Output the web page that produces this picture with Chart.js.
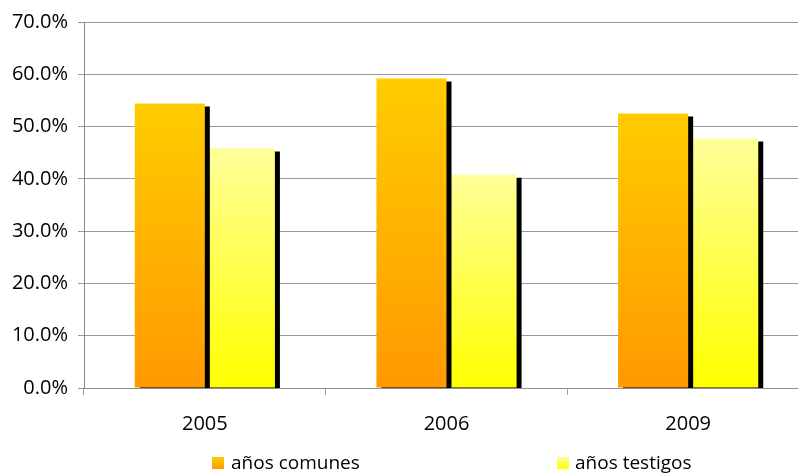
<!DOCTYPE html>
<html>
<head>
<meta charset="utf-8">
<script src="https://cdn.jsdelivr.net/npm/chart.js@4"></script>
<style>
  html, body { margin: 0; padding: 0; background: #fff; overflow: hidden; width: 798px; height: 473px; }
  #wrap { position: absolute; left: 0; top: 0; width: 809px; height: 473px; }
  .lg { position: absolute; font-family: "Open Sans", sans-serif; font-size: 19px; line-height: 19px; color: #000; white-space: nowrap; }
  .box { position: absolute; width: 12px; height: 12px; }
</style>
</head>
<body>
<div id="wrap"><canvas id="c" width="809" height="473"></canvas></div>
<div class="box" style="left:212px;top:457px;background:linear-gradient(#FFCC00,#FF9900);"></div>
<div class="lg" style="left:231px;top:453px;">años comunes</div>
<div class="box" style="left:557px;top:457px;background:linear-gradient(#FFFF99,#FFFF00);"></div>
<div class="lg" style="left:575px;top:453px;">años testigos</div>
<script>
const categories = ['2005', '2006', '2009'];
const seriesNames = ['años comunes', 'años testigos'];
const comunes = [54.4, 59.2, 52.5];
const testigos = [45.8, 40.8, 47.7];
const yTicks = [0, 10, 20, 30, 40, 50, 60, 70];

function grad(top, bottom) {
  return (ctx) => {
    const chart = ctx.chart;
    if (!chart.chartArea || ctx.type !== 'data') return top;
    const y = chart.scales.y;
    const t = y.getPixelForValue(ctx.raw);
    const b = y.getPixelForValue(0);
    if (!isFinite(t) || !isFinite(b) || t === b) return top;
    const g = chart.ctx.createLinearGradient(0, t, 0, b);
    g.addColorStop(0, top);
    g.addColorStop(1, bottom);
    return g;
  };
}

const shadowPlugin = {
  id: 'barShadow',
  beforeDatasetDraw(chart) {
    const c = chart.ctx;
    c.save();
    c.shadowColor = '#000';
    c.shadowOffsetX = 5;
    c.shadowOffsetY = 3;
    c.shadowBlur = 0;
  },
  afterDatasetDraw(chart) {
    chart.ctx.restore();
  }
};

new Chart(document.getElementById('c'), {
  type: 'bar',
  data: {
    labels: categories,
    datasets: [
      { label: seriesNames[0], data: comunes, backgroundColor: grad('#FFCC00', '#FF9900'), borderWidth: 0 },
      { label: seriesNames[1], data: testigos, backgroundColor: grad('#FFFF99', '#FFFF00'), borderWidth: 0 }
    ]
  },
  options: {
    responsive: false,
    animation: false,
    devicePixelRatio: 1,
    categoryPercentage: 0.58,
    barPercentage: 1.0,
    layout: { autoPadding: false, padding: { top: 20, left: 0, right: 0, bottom: 0 } },
    plugins: { legend: { display: false }, tooltip: { enabled: false } },
    scales: {
      x: {
        z: 1,
        grid: { display: true, drawOnChartArea: false, drawTicks: true, tickLength: 7, color: '#999', offset: true },
        border: { display: true, color: 'rgba(140,140,140,0.8)', width: 1 },
        ticks: { color: '#000', padding: 17, font: { family: 'Open Sans', size: 20 } },
        afterFit(s) { s.height = 85; }
      },
      y: {
        min: 0, max: 70,
        afterBuildTicks(s) { s.ticks = yTicks.map(v => ({ value: v })); },
        grid: { color: '#999', tickLength: 6, drawTicks: true },
        border: { display: true, color: '#888' },
        ticks: { color: '#000', padding: 10, font: { family: 'Open Sans', size: 20 }, callback: v => Number(v).toFixed(1) + '%' },
        afterFit(s) { s.width = 84; }
      }
    }
  },
  plugins: [shadowPlugin]
});
</script>
</body>
</html>
